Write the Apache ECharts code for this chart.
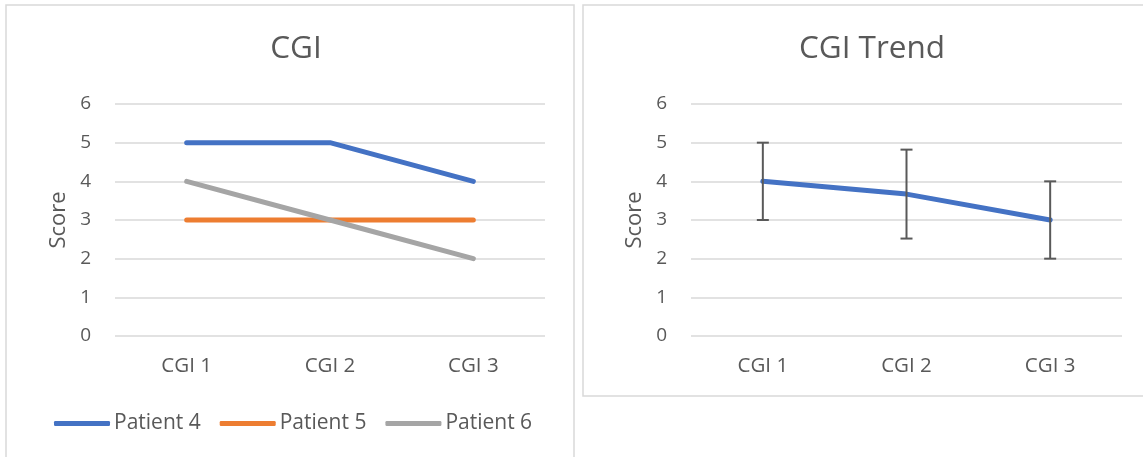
<!DOCTYPE html>
<html>
<head>
<meta charset="utf-8">
<script src="https://cdn.jsdelivr.net/npm/echarts@6/dist/echarts.min.js"></script>
<style>
  html, body { margin: 0; padding: 0; background: #ffffff; }
  #chart { width: 1143px; height: 457px; }
</style>
</head>
<body>
<div id="chart"></div>
<script>
// Visit labels shared by both panels
const categories = ['CGI 1', 'CGI 2', 'CGI 3'];
const yTicks = [0, 1, 2, 3, 4, 5, 6];

// Per-patient scores (left panel)
const patient4 = [5, 5, 4];
const patient5 = [3, 3, 3];
const patient6 = [4, 3, 2];

// Mean score and spread per visit (right panel)
const trendMean = [4, 3.67, 3];
const trendErr = [1, 1.15, 1];

const FONT = 'Open Sans';
const TEXT = '#595959';
const GRID = '#D9D9D9';

const chart = echarts.init(document.getElementById('chart'), null, { renderer: 'canvas' });

function yAxisFor(gridIndex) {
  return {
    type: 'value', gridIndex, min: yTicks[0], max: yTicks[yTicks.length - 1], interval: 1,
    name: 'Score', nameLocation: 'middle', nameGap: 45, nameRotate: 90,
    nameTextStyle: { color: TEXT, fontFamily: FONT, fontSize: 22 },
    axisLine: { show: false }, axisTick: { show: false },
    axisLabel: { color: TEXT, fontFamily: FONT, fontSize: 19, margin: 24 },
    splitLine: { lineStyle: { color: GRID, width: 1.5 } }
  };
}
function xAxisFor(gridIndex) {
  return {
    type: 'category', gridIndex, data: categories, boundaryGap: true,
    axisLine: { show: false }, axisTick: { show: false },
    axisLabel: { color: TEXT, fontFamily: FONT, fontSize: 20.5, margin: 20 }
  };
}
function lineSeries(name, data, color) {
  return {
    name, type: 'line', xAxisIndex: 0, yAxisIndex: 0, data,
    symbol: 'none', lineStyle: { color, width: 5, cap: 'round', join: 'round' },
    itemStyle: { color }, emphasis: { disabled: true }, z: 3
  };
}

chart.setOption({
  animation: false,
  graphic: [
    { type: 'rect', shape: { x: 6, y: 5, width: 568, height: 470 }, style: { fill: 'none', stroke: '#D9D9D9', lineWidth: 1.5 }, z: 0 },
    { type: 'rect', shape: { x: 583, y: 5, width: 580, height: 391 }, style: { fill: 'none', stroke: '#D9D9D9', lineWidth: 1.5 }, z: 0 }
  ],
  title: [
    { text: 'CGI', left: 291, top: 28, textAlign: 'center',
      textStyle: { color: TEXT, fontFamily: FONT, fontSize: 31.5, fontWeight: 'normal' } },
    { text: 'CGI Trend', left: 867, top: 28, textAlign: 'center',
      textStyle: { color: TEXT, fontFamily: FONT, fontSize: 31.5, fontWeight: 'normal' } }
  ],
  legend: {
    data: ['Patient 4', 'Patient 5', 'Patient 6'],
    left: 49, top: 408, itemWidth: 56, itemHeight: 5, itemGap: 19,
    icon: 'roundRect',
    textStyle: { color: TEXT, fontFamily: FONT, fontSize: 21, padding: [0, 0, 0, -1] }
  },
  grid: [
    { left: 115, top: 104, width: 430, height: 232 },
    { left: 691, top: 104, width: 431, height: 232 }
  ],
  xAxis: [xAxisFor(0), xAxisFor(1)],
  yAxis: [yAxisFor(0), yAxisFor(1)],
  series: [
    lineSeries('Patient 5', patient5, '#ED7D31'),
    lineSeries('Patient 6', patient6, '#A5A5A5'),
    lineSeries('Patient 4', patient4, '#4472C4'),
    {
      name: 'Trend', type: 'line', xAxisIndex: 1, yAxisIndex: 1, data: trendMean,
      symbol: 'none', lineStyle: { color: '#4472C4', width: 5, cap: 'round', join: 'round' },
      emphasis: { disabled: true }, z: 3
    },
    {
      name: 'Spread', type: 'custom', xAxisIndex: 1, yAxisIndex: 1,
      data: trendMean.map((m, i) => [i, m - trendErr[i], m + trendErr[i]]),
      z: 4,
      renderItem: function (params, api) {
        const lo = api.coord([api.value(0), api.value(1)]);
        const hi = api.coord([api.value(0), api.value(2)]);
        const cap = 6;
        const style = { stroke: '#595959', lineWidth: 2, fill: null };
        return {
          type: 'group',
          children: [
            { type: 'line', shape: { x1: lo[0], y1: lo[1], x2: hi[0], y2: hi[1] }, style },
            { type: 'line', shape: { x1: hi[0] - cap, y1: hi[1], x2: hi[0] + cap, y2: hi[1] }, style },
            { type: 'line', shape: { x1: lo[0] - cap, y1: lo[1], x2: lo[0] + cap, y2: lo[1] }, style }
          ]
        };
      }
    }
  ]
});
</script>
</body>
</html>
